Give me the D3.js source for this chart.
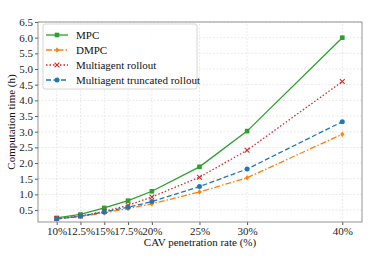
<!DOCTYPE html>
<html>
<head>
<meta charset="utf-8">
<script src="https://cdn.jsdelivr.net/npm/d3@7"></script>
<style>
  body { margin: 0; background: #fff; }
</style>
</head>
<body>
<div id="chart"></div>
<script>
// penetration rates (%)
const rates = [10, 12.5, 15, 17.5, 20, 25, 30, 40];
const rateLabels = ["10%", "12.5%", "15%", "17.5%", "20%", "25%", "30%", "40%"];
const mpc = [0.25, 0.36, 0.57, 0.80, 1.10, 1.88, 3.02, 6.0];
const dmpc = [0.22, 0.30, 0.41, 0.55, 0.70, 1.08, 1.53, 2.92];
const rollout = [0.23, 0.31, 0.46, 0.65, 0.92, 1.55, 2.41, 4.60];
const truncated = [0.22, 0.30, 0.44, 0.59, 0.77, 1.25, 1.81, 3.32];
const yTicks = [0.5, 1.0, 1.5, 2.0, 2.5, 3.0, 3.5, 4.0, 4.5, 5.0, 5.5, 6.0, 6.5];

const series = [
  { name: "MPC", values: mpc, color: "#2ca02c", dash: null, marker: "square" },
  { name: "DMPC", values: dmpc, color: "#ff7f0e", dash: "6,2,1.5,2", marker: "diamond" },
  { name: "Multiagent rollout", values: rollout, color: "#d62728", dash: "1.5,2", marker: "x" },
  { name: "Multiagent truncated rollout", values: truncated, color: "#1f77b4", dash: "5,2.5", marker: "circle" }
];

const FONT = "'Liberation Serif', 'Times New Roman', 'DejaVu Serif', serif";
const W = 371, H = 262;
const margin = { left: 38, right: 9, top: 22, bottom: 40 };

const svg = d3.select("#chart").append("svg")
  .attr("width", W).attr("height", H)
  .style("font-family", FONT);

const x = d3.scaleLinear().domain([8.04, 42.07]).range([margin.left, W - margin.right]);
const y = d3.scaleLinear().domain([0.12, 6.5]).range([H - margin.bottom, margin.top]);

// grid
const g = svg.append("g");
g.selectAll("line.gx").data(rates).enter().append("line")
  .attr("x1", d => x(d)).attr("x2", d => x(d))
  .attr("y1", y.range()[0]).attr("y2", y.range()[1])
  .attr("stroke", "#dcdcdc").attr("stroke-width", 0.6).attr("stroke-dasharray", "2,1.5");
g.selectAll("line.gy").data(yTicks).enter().append("line")
  .attr("x1", x.range()[0]).attr("x2", x.range()[1])
  .attr("y1", d => y(d)).attr("y2", d => y(d))
  .attr("stroke", "#dcdcdc").attr("stroke-width", 0.6).attr("stroke-dasharray", "2,1.5");

// axes
const xAxis = d3.axisBottom(x).tickValues(rates)
  .tickFormat((d, i) => rateLabels[i]).tickSize(3).tickPadding(2);
const yAxis = d3.axisLeft(y).tickValues(yTicks)
  .tickFormat(d3.format(".1f")).tickSize(3).tickPadding(2);

function styleAxis(a) {
  a.attr("font-family", FONT);
  a.select(".domain").remove();
  a.selectAll("text").attr("font-size", 11).attr("fill", "#222").style("font-family", FONT);
  a.selectAll("line").attr("stroke", "#555");
}
svg.append("g").attr("transform", `translate(0,${H - margin.bottom})`).call(xAxis).call(styleAxis);
svg.append("g").attr("transform", `translate(${margin.left},0)`).call(yAxis).call(styleAxis);

// frame
svg.append("rect")
  .attr("x", margin.left).attr("y", margin.top)
  .attr("width", W - margin.left - margin.right)
  .attr("height", H - margin.top - margin.bottom)
  .attr("fill", "none").attr("stroke", "#888").attr("stroke-width", 0.9);

function drawMarker(sel, type, color, cx, cy) {
  if (type === "square") {
    sel.append("rect").attr("x", cx - 2.3).attr("y", cy - 2.3)
      .attr("width", 4.6).attr("height", 4.6).attr("fill", color);
  } else if (type === "circle") {
    sel.append("circle").attr("cx", cx).attr("cy", cy).attr("r", 2.5).attr("fill", color);
  } else if (type === "diamond") {
    sel.append("path").attr("d", `M${cx},${cy - 2.8}L${cx + 2},${cy}L${cx},${cy + 2.8}L${cx - 2},${cy}Z`)
      .attr("fill", color);
  } else if (type === "x") {
    sel.append("path").attr("d", `M${cx - 2.4},${cy - 2.4}L${cx + 2.4},${cy + 2.4}M${cx - 2.4},${cy + 2.4}L${cx + 2.4},${cy - 2.4}`)
      .attr("stroke", color).attr("stroke-width", 1.1).attr("fill", "none");
  }
}

const line = d3.line().x(d => x(d[0])).y(d => y(d[1]));
series.forEach(s => {
  const pts = rates.map((r, i) => [r, s.values[i]]);
  svg.append("path").datum(pts)
    .attr("d", line).attr("fill", "none")
    .attr("stroke", s.color).attr("stroke-width", 1.3)
    .attr("stroke-dasharray", s.dash);
  const mg = svg.append("g");
  pts.forEach(p => drawMarker(mg, s.marker, s.color, x(p[0]), y(p[1])));
});

// legend
const leg = svg.append("g");
leg.append("rect").attr("x", 43).attr("y", 24).attr("width", 154).attr("height", 65)
  .attr("rx", 2).attr("fill", "#fff").attr("fill-opacity", 0.85)
  .attr("stroke", "#ccc").attr("stroke-width", 0.8);
series.forEach((s, i) => {
  const ly = 35 + i * 15;
  leg.append("line").attr("x1", 46).attr("x2", 68).attr("y1", ly).attr("y2", ly)
    .attr("stroke", s.color).attr("stroke-width", 1.3).attr("stroke-dasharray", s.dash);
  drawMarker(leg, s.marker, s.color, 57, ly);
  leg.append("text").attr("x", 76).attr("y", ly + 3.8)
    .attr("font-size", 11).attr("fill", "#111").style("font-family", FONT).text(s.name);
});

// axis titles
svg.append("text").attr("x", (margin.left + W - margin.right) / 2).attr("y", 246)
  .attr("text-anchor", "middle").attr("font-size", 11).attr("fill", "#111")
  .style("font-family", FONT)
  .text("CAV penetration rate (%)");
svg.append("text")
  .attr("transform", `translate(15,${(margin.top + H - margin.bottom) / 2}) rotate(-90)`)
  .attr("text-anchor", "middle").attr("font-size", 11).attr("fill", "#111")
  .style("font-family", FONT)
  .text("Computation time (h)");
</script>
</body>
</html>
